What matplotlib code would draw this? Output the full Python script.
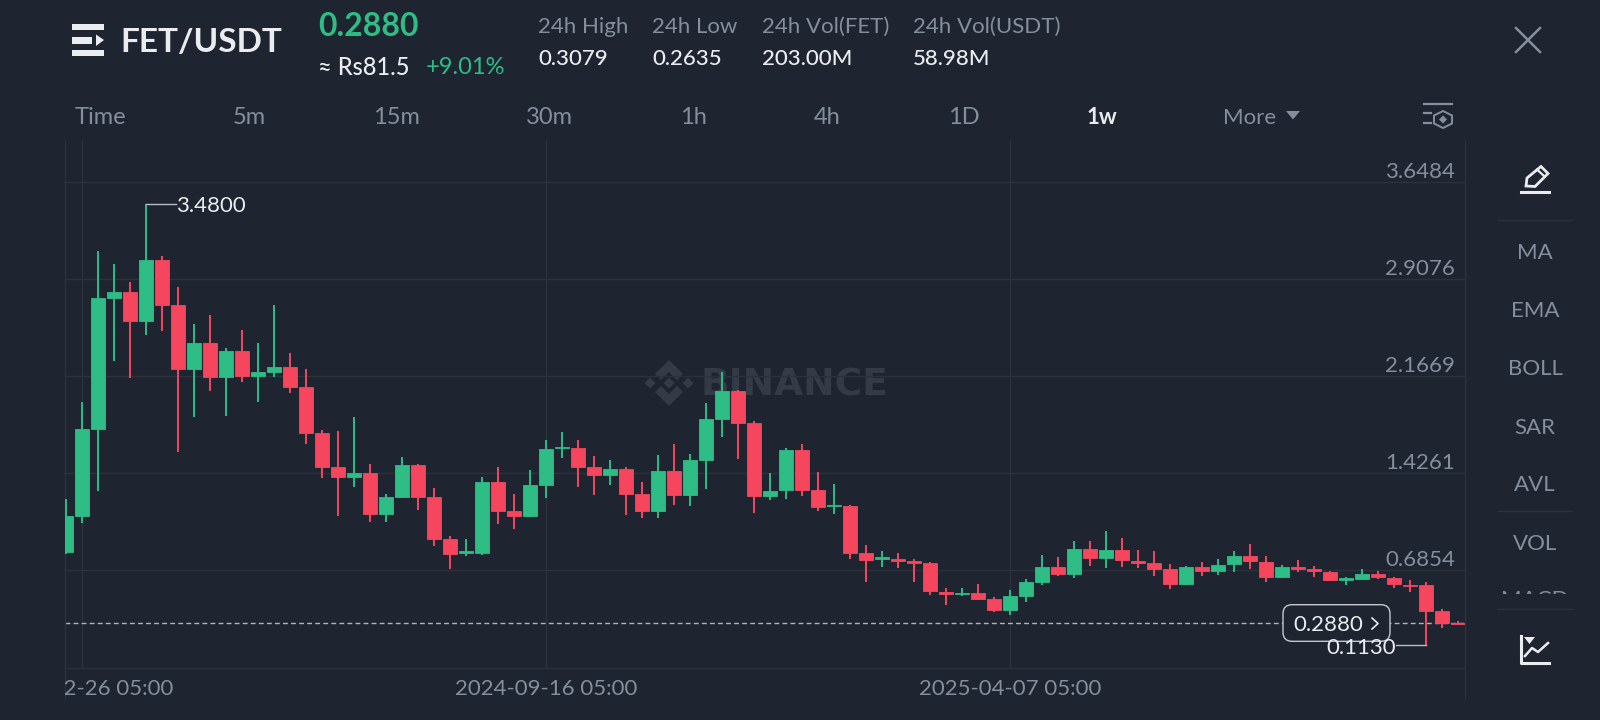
import numpy as np
from matplotlib import pyplot as plt
from matplotlib.patches import FancyBboxPatch, Polygon, Rectangle

plt.rcParams['font.family'] = ['Lato', 'DejaVu Sans']

BG = '#1E2530'
GREEN = '#2EBD85'
RED = '#F6465D'
GREY = '#848E9C'
WHITE = '#EAECEF'
GRID = '#2B323C'

# weekly candles
opens = [0.822, 1.100, 1.766, 2.763, 2.809, 2.585, 3.050, 2.707, 2.224, 2.417, 2.160, 2.358,
         2.168, 2.198, 2.234, 2.084, 1.735, 1.471, 1.400, 1.425, 1.112, 1.245, 1.486, 1.243,
         0.922, 0.816, 0.816, 1.360, 1.136, 1.101, 1.335, 1.615, 1.620, 1.472, 1.416, 1.459,
         1.271, 1.141, 1.442, 1.258, 1.531, 1.841, 2.055, 1.808, 1.256, 1.296, 1.607, 1.297,
         1.174, 1.177, 0.821, 0.772, 0.774, 0.754, 0.744, 0.523, 0.505, 0.515, 0.467, 0.383,
         0.492, 0.599, 0.708, 0.657, 0.846, 0.777, 0.843, 0.759, 0.739, 0.693, 0.579, 0.708,
         0.680, 0.731, 0.797, 0.752, 0.632, 0.713, 0.698, 0.675, 0.614, 0.622, 0.655, 0.629,
         0.576, 0.571, 0.377, 0.286]
highs = [1.229, 1.967, 3.124, 3.022, 2.885, 3.480, 3.083, 2.847, 2.562, 2.633, 2.384, 2.521,
         2.422, 2.707, 2.343, 2.219, 1.753, 1.746, 1.857, 1.496, 1.267, 1.552, 1.496, 1.316,
         0.945, 0.922, 1.398, 1.475, 1.266, 1.449, 1.678, 1.739, 1.683, 1.559, 1.528, 1.475,
         1.358, 1.564, 1.648, 1.571, 1.961, 2.195, 2.060, 1.826, 1.426, 1.617, 1.653, 1.437,
         1.347, 1.185, 0.879, 0.835, 0.818, 0.774, 0.746, 0.553, 0.548, 0.581, 0.482, 0.535,
         0.619, 0.800, 0.787, 0.907, 0.912, 0.988, 0.935, 0.841, 0.830, 0.736, 0.716, 0.746,
         0.772, 0.833, 0.884, 0.792, 0.726, 0.764, 0.718, 0.683, 0.635, 0.693, 0.680, 0.632,
         0.612, 0.596, 0.390, 0.298]
lows = [0.810, 1.049, 1.288, 2.280, 2.155, 2.483, 2.508, 1.590, 1.852, 2.056, 1.860, 2.124,
        1.972, 2.160, 2.041, 1.649, 1.387, 1.102, 1.323, 1.051, 1.056, 1.234, 1.148, 0.873,
        0.698, 0.798, 0.803, 1.042, 1.001, 1.090, 1.235, 1.543, 1.325, 1.263, 1.337, 1.108,
        1.088, 1.088, 1.185, 1.177, 1.309, 1.704, 1.538, 1.121, 1.223, 1.233, 1.256, 1.139,
        1.116, 0.770, 0.597, 0.713, 0.706, 0.596, 0.497, 0.418, 0.487, 0.457, 0.370, 0.342,
        0.441, 0.576, 0.645, 0.629, 0.721, 0.701, 0.708, 0.706, 0.642, 0.543, 0.571, 0.642,
        0.652, 0.675, 0.698, 0.599, 0.624, 0.675, 0.635, 0.604, 0.574, 0.619, 0.619, 0.551,
        0.520, 0.113, 0.250, 0.273]
closes = [1.100, 1.766, 2.763, 2.809, 2.585, 3.050, 2.707, 2.224, 2.417, 2.160, 2.358, 2.168,
          2.198, 2.234, 2.084, 1.735, 1.471, 1.400, 1.428, 1.112, 1.245, 1.486, 1.245, 0.922,
          0.813, 0.831, 1.360, 1.139, 1.101, 1.335, 1.610, 1.625, 1.472, 1.416, 1.459, 1.271,
          1.141, 1.442, 1.258, 1.531, 1.841, 2.055, 1.811, 1.256, 1.294, 1.607, 1.297, 1.172,
          1.185, 0.821, 0.767, 0.785, 0.757, 0.744, 0.528, 0.505, 0.515, 0.467, 0.383, 0.490,
          0.596, 0.708, 0.655, 0.846, 0.777, 0.843, 0.762, 0.741, 0.696, 0.584, 0.708, 0.678,
          0.726, 0.797, 0.754, 0.635, 0.708, 0.698, 0.678, 0.612, 0.624, 0.655, 0.632, 0.579,
          0.563, 0.378, 0.288, 0.274]

y_ticks = [3.6484, 2.9076, 2.1669, 1.4261, 0.6854]
y_labels = ['3.6484', '2.9076', '2.1669', '1.4261', '0.6854']
y_bottom = -0.0553
x_ticks = [1, 30, 59]
x_labels = ['2024-02-26 05:00', '2024-09-16 05:00', '2025-04-07 05:00']
last_price = 0.2880
intervals = ['Time', '5m', '15m', '30m', '1h', '4h', '1D']
interval_pos = [100, 249.5, 396, 549.5, 693, 827, 964]
side_items = ['MA', 'EMA', 'BOLL', 'SAR', 'AVL', 'VOL']
side_pos = [253, 311, 369, 427.5, 485, 543.5]
stats = [('24h High', '0.3079', 538), ('24h Low', '0.2635', 652.5),
         ('24h Vol(FET)', '203.00M', 762), ('24h Vol(USDT)', '58.98M', 913)]


def pixel_axes(z):
    a = fig.add_axes([0, 0, 1, 1], zorder=z)
    a.set_xlim(0, 1600)
    a.set_ylim(720, 0)
    a.axis('off')
    a.patch.set_alpha(0)
    return a


fig = plt.figure(figsize=(16, 7.2), dpi=100, facecolor=BG)
back = pixel_axes(0)
top = pixel_axes(2)

# watermark
mark = '#343B47'
cx, cy = 669, 383
for pts in ([(0, -5.5), (5.5, 0), (0, 5.5), (-5.5, 0)],
            [(-19, -5.5), (-13.5, 0), (-19, 5.5), (-24.5, 0)],
            [(19, -5.5), (24.5, 0), (19, 5.5), (13.5, 0)],
            [(0, -23), (14, -9), (8, -3), (0, -11), (-8, -3), (-14, -9)],
            [(0, 23), (14, 9), (8, 3), (0, 11), (-8, 3), (-14, 9)]):
    back.add_patch(Polygon([(cx + a, cy + b) for a, b in pts], closed=True, fc=mark, ec='none'))
back.text(701, 386, 'BINANCE', color=mark, fontsize=27, fontweight='bold', family='DejaVu Sans',
          va='center', ha='left')

# chart
ax = fig.add_axes([64.7 / 1600, 1 - 699 / 720, (1465.3 - 64.7) / 1600, (699 - 140) / 720], zorder=1)
ax.patch.set_alpha(0)
ax.set_xlim(-0.1, 87.44)
ax.set_ylim(-0.295, 3.967)
for s in ['top', 'bottom']:
    ax.spines[s].set_visible(False)
for s in ['left', 'right']:
    ax.spines[s].set_color(GRID)
    ax.spines[s].set_linewidth(1)
ax.tick_params(left=False, bottom=False, labelleft=False, labelbottom=False)
for v in y_ticks + [y_bottom]:
    ax.axhline(v, color=GRID, lw=1, zorder=1)
for i in x_ticks:
    ax.plot([i, i], [y_bottom, 3.967], color=GRID, lw=1, zorder=1)

x = np.arange(len(opens))
o, h, l, c = map(np.array, (opens, highs, lows, closes))
colors = [GREEN if b >= a else RED for a, b in zip(o, c)]
ax.axhline(last_price, color='#AEB4BC', lw=1, dashes=(3.5, 2.3), zorder=2)
ax.vlines(x, l, h, colors=colors, lw=1.4, zorder=3)
ax.bar(x, np.abs(c - o), bottom=np.minimum(o, c), width=0.86, color=colors, edgecolor=colors, lw=0.6, zorder=3)

for v, s in zip(y_ticks, y_labels):
    ax.annotate(s, (1, v), xycoords=ax.get_yaxis_transform(), xytext=(-7.5, 0), textcoords='offset points',
                color=GREY, fontsize=16, ha='right', va='bottom', annotation_clip=False)
for i, s in zip(x_ticks, x_labels):
    ax.text(i, -0.2215, s, color=GREY, fontsize=16, ha='center', va='center', clip_on=True)

# high / low leaders
i_hi = int(np.argmax(h))
i_lo = int(np.argmin(l))
ax.plot([i_hi, i_hi + 1.85], [h[i_hi], h[i_hi]], color='#B7BDC6', lw=1, zorder=4)
ax.text(i_hi + 1.83, h[i_hi] - 0.015, '%.4f' % h[i_hi], color=WHITE, fontsize=16, va='center', ha='left', zorder=6)
ax.plot([i_lo, i_lo - 1.87], [l[i_lo], l[i_lo]], color='#B7BDC6', lw=1, zorder=4)

# current price pill
top.add_patch(FancyBboxPatch((1283, 604.7), 107, 36.6, boxstyle='round,pad=0,rounding_size=9',
                             fc=BG, ec='#C4C8CE', lw=1))
top.text(1293, 625, '%.4f' % last_price, color=WHITE, fontsize=16, va='center', ha='left')
top.plot([1372, 1378, 1372], [618, 623.5, 629], color=WHITE, lw=1.2)
top.text(1396, 648.5, '%.4f' % l[i_lo], color=WHITE, fontsize=16, va='center', ha='right')

# header
top.add_patch(Rectangle((72, 24), 32, 6, fc=WHITE))
top.add_patch(Rectangle((72, 37), 20, 6.5, fc=WHITE))
top.add_patch(Polygon([(96, 34.5), (104, 40), (96, 46)], closed=True, fc=WHITE))
top.add_patch(Rectangle((72, 50), 32, 6, fc=WHITE))
top.text(120, 42, 'FET/USDT', color=WHITE, fontsize=24, fontweight='bold', va='center', ha='left')
top.text(318, 27, '0.2880', color=GREEN, fontsize=23, fontweight='bold', va='center', ha='left')
top.text(318, 67.5, '≈ Rs81.5', color=WHITE, fontsize=17, fontweight='medium', va='center', ha='left')
top.text(426, 67.5, '+9.01%', color=GREEN, fontsize=17, va='center', ha='left')
for name, val, px in stats:
    top.text(px, 27, name, color=GREY, fontsize=16, va='center', ha='left')
    top.text(px, 59, val, color=WHITE, fontsize=16, fontweight='medium', va='center', ha='left')
top.plot([1516, 1540], [28, 52], color=GREY, lw=1.8)
top.plot([1516, 1540], [52, 28], color=GREY, lw=1.8)

# interval row
for s, px in zip(intervals, interval_pos):
    top.text(px, 118, s, color=GREY, fontsize=17, va='center', ha='center')
top.text(1101.5, 118, '1w', color=WHITE, fontsize=16, fontweight='bold', va='center', ha='center')
top.text(1223, 118, 'More', color=GREY, fontsize=16, va='center', ha='left')
top.add_patch(Polygon([(1286, 111), (1300, 111), (1293, 119.5)], closed=True, fc=GREY))
top.plot([1424, 1452], [104, 104], color=GREY, lw=1.6)
top.plot([1424, 1431], [113, 113], color=GREY, lw=1.6)
top.plot([1424, 1431], [122.5, 122.5], color=GREY, lw=1.6)
top.add_patch(Polygon([(1443, 111), (1452, 115.5), (1452, 123.5), (1443, 128), (1434, 123.5), (1434, 115.5)],
                      closed=True, fc='none', ec=GREY, lw=1.4))
top.add_patch(Polygon([(1443, 115.5), (1447, 119.5), (1443, 123.5), (1439, 119.5)], closed=True, fc=GREY))

# side bar
for s, py in zip(side_items, side_pos):
    top.text(1535, py, s, color=GREY, fontsize=16, va='center', ha='center')
macd = top.text(1535, 599.5, 'MACD', color=GREY, fontsize=16, va='center', ha='center', clip_on=True)
macd.set_clip_path(Rectangle((1490, 585), 90, 8.5, transform=top.transData))
for py in [220, 511, 609]:
    top.plot([1498, 1572], [py, py], color=GRID, lw=1)

# pencil
top.add_patch(Polygon([(1526, 186), (1527, 178), (1541, 166.5), (1548, 173.5), (1535, 186.5)],
                      closed=True, fc='none', ec=WHITE, lw=2))
top.plot([1537, 1544], [169.5, 176], color=WHITE, lw=1.6)
top.plot([1521, 1543], [192, 192], color=WHITE, lw=2.2)
top.plot([1545, 1549], [192, 192], color=WHITE, lw=2.2)

# chart icon
top.plot([1521, 1521, 1549], [636, 663, 663], color=WHITE, lw=2.2)
top.plot([1525, 1532, 1538, 1548], [656, 648, 652, 643], color=WHITE, lw=1.8)
top.add_patch(Polygon([(1524, 637), (1535, 637), (1529.5, 644)], closed=True, fc=WHITE))

fig.savefig('out.png', dpi=100, facecolor=BG)
